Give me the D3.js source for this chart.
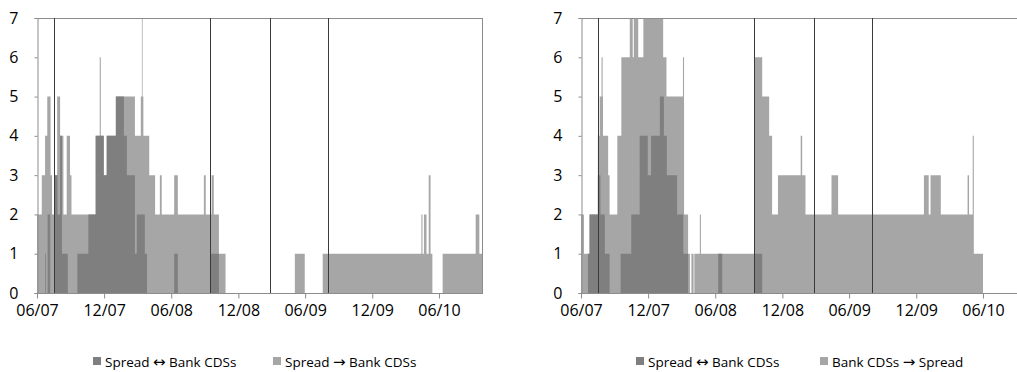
<!DOCTYPE html>
<html><head><meta charset="utf-8">
<script src="https://cdn.jsdelivr.net/npm/d3@7"></script>
<style>
body{margin:0;background:#fff}
svg{display:block}
text{font-family:"Open Sans","Noto Sans",sans-serif;fill:#000}
</style>
</head><body>
<svg id="c" width="1017" height="372"></svg>
<script>
// ---------- data (step series: [date of change, value]) ----------
const xStart = "2007-06-01", xEnd = "2010-09-29";
const yTicks = [0,1,2,3,4,5,6,7];
const xTickDates = ["2007-06-01","2007-12-01","2008-06-01","2008-12-01","2009-06-01","2009-12-01","2010-06-01"];
const xTickLabels = ["06/07","12/07","06/08","12/08","06/09","12/09","06/10"];
const eventDates = ["2007-07-17","2008-09-15","2009-02-26","2009-08-02"];

const leftLight = [
 ["2007-06-01",2],["2007-06-14",3],["2007-06-23",4],["2007-06-29",5],["2007-07-08",3],["2007-07-12",2],
 ["2007-07-18",3],["2007-07-26",5],["2007-08-03",4],["2007-08-12",2],["2007-08-21",4],["2007-08-30",3],
 ["2007-09-03",2],["2007-11-08",4],["2007-11-19",6],["2007-11-22",4],["2007-11-30",3],["2007-12-08",4],
 ["2008-01-02",5],["2008-02-23",4],["2008-03-10",5],["2008-03-13",7],["2008-03-15",5],["2008-03-17",4],
 ["2008-03-26",4],["2008-04-02",3],["2008-04-18",2],["2008-05-01",3],["2008-05-06",2],["2008-06-09",3],
 ["2008-06-19",2],["2008-08-29",3],["2008-09-03",2],["2008-09-19",3],["2008-09-25",2],["2008-10-09",1],
 ["2008-10-27",0],["2009-05-04",1],["2009-05-31",0],["2009-07-19",1],["2010-04-14",2],["2010-04-17",1],
 ["2010-04-21",2],["2010-04-28",1],["2010-05-04",3],["2010-05-09",1],["2010-05-14",0],["2010-06-11",1],
 ["2010-09-09",2],["2010-09-19",1]
];
const leftDark = [
 ["2007-06-01",0],["2007-06-23",1],["2007-06-25",0],["2007-06-30",2],["2007-07-07",0],["2007-07-18",3],
 ["2007-07-27",2],["2007-08-03",4],["2007-08-08",1],["2007-08-24",0],["2007-09-19",1],["2007-10-19",2],
 ["2007-11-08",4],["2007-11-30",3],["2007-12-08",4],["2008-01-02",5],["2008-01-24",4],["2008-02-01",3],
 ["2008-02-23",1],["2008-02-28",2],["2008-03-21",1],["2008-03-27",0],["2008-06-09",1],["2008-06-19",0],
 ["2008-09-15",1],["2008-10-09",0]
];
const rightLight = [
 ["2007-06-01",2],["2007-06-09",1],["2007-06-25",2],["2007-07-17",4],["2007-07-22",5],["2007-07-27",6],
 ["2007-07-30",5],["2007-07-31",4],["2007-08-14",3],["2007-08-18",2],["2007-09-08",4],["2007-09-19",6],
 ["2007-10-12",7],["2007-10-20",6],["2007-10-23",7],["2007-11-04",6],["2007-11-18",7],["2008-01-11",6],
 ["2008-01-20",5],["2008-03-05",6],["2008-03-08",2],["2008-03-19",1],["2008-03-24",0],["2008-03-28",1],
 ["2008-04-03",0],["2008-04-05",1],["2008-04-20",2],["2008-04-23",1],["2008-09-15",6],["2008-10-07",5],
 ["2008-10-26",4],["2008-11-03",2],["2008-11-19",3],["2009-01-20",4],["2009-01-24",3],["2009-02-02",2],
 ["2009-04-14",3],["2009-05-02",2],["2009-12-22",3],["2010-01-04",2],["2010-01-09",3],["2010-02-06",2],
 ["2010-04-20",3],["2010-04-24",2],["2010-05-04",4],["2010-05-07",1],["2010-06-01",0]
];
const rightDark = [
 ["2007-06-01",0],["2007-06-20",1],["2007-06-24",2],["2007-07-17",3],["2007-07-24",2],["2007-08-05",1],
 ["2007-08-18",0],["2007-09-17",1],["2007-10-16",2],["2007-11-08",4],["2007-11-30",3],["2007-12-09",4],
 ["2008-01-02",5],["2008-01-13",4],["2008-01-21",3],["2008-02-18",2],["2008-03-06",1],["2008-03-19",0],
 ["2008-06-09",1],["2008-06-20",0],["2008-09-15",1],["2008-10-07",0]
];
const leftLegend = [["Spread ","\u2194"," Bank CDSs"],["Spread ","\u2192"," Bank CDSs"]];
const rightLegend = [["Spread ","\u2194"," Bank CDSs"],["Bank CDSs ","\u2192"," Spread"]];
const darkColor = "#7f7f7f", lightColor = "#a6a6a6";

// ---------- drawing ----------
const parse = d3.timeParse("%Y-%m-%d");
const svg = d3.select("#c");

function panel(x0, light, dark, legend, legX, legGap) {
  const W = 446, top = 18, bottom = 293;
  const g = svg.append("g").attr("transform", `translate(${x0},0)`);
  const x = d3.scaleTime().domain([parse(xStart), parse(xEnd)]).range([0, W]);
  const y = d3.scaleLinear().domain([0, 7]).range([bottom, top]);
  const prep = s => {
    const a = s.map(d => ({d: parse(d[0]), v: d[1]}));
    a.push({d: parse(xEnd), v: a[a.length-1].v});
    return a;
  };
  const area = d3.area().x(d => x(d.d)).y0(y(0)).y1(d => y(d.v)).curve(d3.curveStepAfter);
  g.append("path").attr("d", area(prep(light))).attr("fill", lightColor);
  g.append("path").attr("d", area(prep(dark))).attr("fill", darkColor);

  // frame top & right
  g.append("line").attr("x1",0).attr("x2",W).attr("y1",top+0.5).attr("y2",top+0.5).attr("stroke","#8c8c8c");
  g.append("line").attr("x1",W-0.5).attr("x2",W-0.5).attr("y1",top).attr("y2",bottom).attr("stroke","#8c8c8c");

  // event lines
  eventDates.forEach(e => {
    const xx = Math.round(x(parse(e))) + 0.5;
    g.append("line").attr("x1",xx).attr("x2",xx).attr("y1",top).attr("y2",bottom).attr("stroke","#3a3a3a").attr("stroke-width",1);
  });

  // y axis
  const ya = g.append("g").attr("transform","translate(0.5,0)")
    .call(d3.axisLeft(y).tickValues(yTicks).tickSize(3).tickPadding(16).tickFormat(d3.format("d")));
  ya.selectAll("path,line").attr("stroke","#8c8c8c");
  ya.selectAll("text").attr("font-size",16).style("font-family","'Open Sans',sans-serif");
  // x axis
  const xa = g.append("g").attr("transform",`translate(0,${bottom+0.5})`)
    .call(d3.axisBottom(x).tickValues(xTickDates.map(parse)).tickSize(5).tickPadding(6)
      .tickFormat((d,i) => xTickLabels[i]));
  xa.select("path").attr("d", `M0,0H${W}`);
  xa.selectAll("path,line").attr("stroke","#8c8c8c");
  xa.selectAll("text").attr("font-size",16).style("font-family","'Open Sans',sans-serif");

  // legend
  const lg = svg.append("g").attr("transform",`translate(${legX},0)`);
  const items = [{c: darkColor, t: legend[0]}, {c: lightColor, t: legend[1]}];
  items.forEach((it,i) => {
    const cx = i * legGap;
    lg.append("rect").attr("x",cx).attr("y",357).attr("width",8).attr("height",8).attr("fill",it.c);
    const t = lg.append("text").attr("x",cx+12).attr("y",367).attr("font-size",13.5);
    t.append("tspan").text(it.t[0]);
    t.append("tspan").style("font-family","'DejaVu Sans',sans-serif").attr("font-size",15).text(it.t[1]);
    t.append("tspan").text(it.t[2]);
  });
}

panel(37, leftLight, leftDark, leftLegend, 93, 180);
panel(581, rightLight, rightDark, rightLegend, 636, 184);
</script>
</body></html>
